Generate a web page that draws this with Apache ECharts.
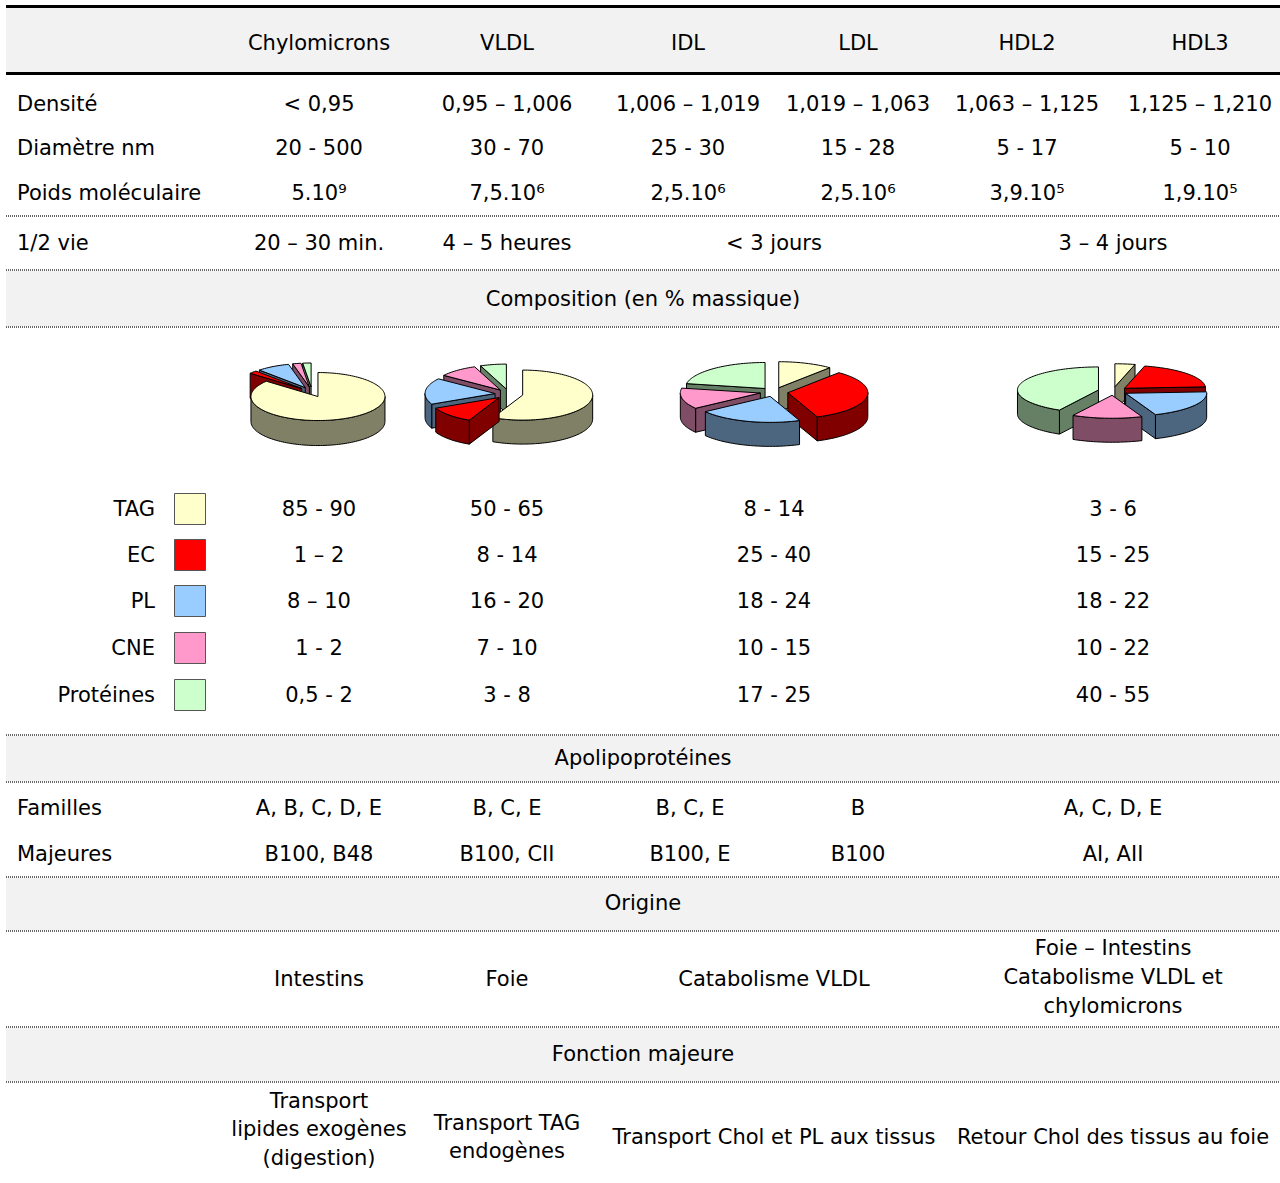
<!DOCTYPE html>
<html><head><meta charset="utf-8">
<script src="https://cdn.jsdelivr.net/npm/echarts@6/dist/echarts.min.js"></script>
<style>html,body{margin:0;padding:0;background:#fff}#c{width:1280px;height:1183px}</style>
</head><body><div id="c"></div>
<script>
// ---------------- data ----------------
const lipoproteins = ['Chylomicrons', 'VLDL', 'IDL', 'LDL', 'HDL2', 'HDL3'];
const densite = ['< 0,95', '0,95 – 1,006', '1,006 – 1,019', '1,019 – 1,063', '1,063 – 1,125', '1,125 – 1,210'];
const diametre = ['20 - 500', '30 - 70', '25 - 30', '15 - 28', '5 - 17', '5 - 10'];
const poids = ['5.10⁹', '7,5.10⁶', '2,5.10⁶', '2,5.10⁶', '3,9.10⁵', '1,9.10⁵'];
const demiVie = ['20 – 30 min.', '4 – 5 heures', '< 3 jours', '3 – 4 jours'];
const rowLabels = ['Densité', 'Diamètre nm', 'Poids moléculaire', '1/2 vie'];
const sections = ['Composition (en % massique)', 'Apolipoprotéines', 'Origine', 'Fonction majeure'];
const components = ['TAG', 'EC', 'PL', 'CNE', 'Protéines'];
const compTAG = ['85 - 90', '50 - 65', '8 - 14', '3 - 6'];
const compEC = ['1 – 2', '8 - 14', '25 - 40', '15 - 25'];
const compPL = ['8 – 10', '16 - 20', '18 - 24', '18 - 22'];
const compCNE = ['1 - 2', '7 - 10', '10 - 15', '10 - 22'];
const compProt = ['0,5 - 2', '3 - 8', '17 - 25', '40 - 55'];
// pie slice shares as drawn (TAG, EC, PL, CNE, Protéines)
const pieChylo = [86, 2, 8, 2, 2];
const pieVLDL = [57, 11, 17, 9, 6];
const pieIDL = [11, 33, 21, 13, 22];
const pieHDL = [4, 20, 20, 14, 42];
const apoLabels = ['Familles', 'Majeures'];
const apoFamilles = ['A, B, C, D, E', 'B, C, E', 'B, C, E', 'B', 'A, C, D, E'];
const apoMajeures = ['B100, B48', 'B100, CII', 'B100, E', 'B100', 'AI, AII'];
const origine = ['Intestins', 'Foie', 'Catabolisme VLDL', 'Foie – Intestins\nCatabolisme VLDL et\nchylomicrons'];
const fonction = ['Transport\nlipides exogènes\n(digestion)', 'Transport TAG\nendogènes', 'Transport Chol et PL aux tissus', 'Retour Chol des tissus au foie'];

// ---------------- styles / layout ----------------
const compColors = ['#ffffcc', '#ff0000', '#99ccff', '#ff99cc', '#ccffcc'];
const compSides = ['#808066', '#800000', '#4d6680', '#804d66', '#668066'];
const FONT = '21px "DejaVu Sans", sans-serif';
const colX = [319, 507, 688, 858, 1027, 1200];
const groupX = [319, 507, 774, 1113];
const apoX = [319, 507, 690, 858, 1113];
const X0 = 6, X1 = 1280;
const pieSets = [pieChylo, pieVLDL, pieIDL, pieHDL];
const pieLayout = [
  { cx: 312, cy: 392, rx: 67, ry: 24, h: 25, d: 14 },
  { cx: 509, cy: 394, rx: 70, ry: 25, h: 24, d: 14 },
  { cx: 774, cy: 392, rx: 80, ry: 26, h: 24, d: 14 },
  { cx: 1113, cy: 391, rx: 81, ry: 23, h: 24, d: 15 }
];

const g = [];
function band(y, h) { g.push({ type: 'rect', z: 0, shape: { x: X0, y: y, width: X1 - X0, height: h }, style: { fill: '#f2f2f2' } }); }
function dotted(y) { g.push({ type: 'line', z: 1, shape: { x1: X0, y1: y, x2: X1, y2: y }, style: { stroke: '#666', lineWidth: 2, lineDash: [1, 1] } }); }
function thick(y) { g.push({ type: 'line', z: 1, shape: { x1: X0, y1: y, x2: X1, y2: y }, style: { stroke: '#000', lineWidth: 3 } }); }
function txt(s, x, y, align, lh) {
  g.push({ type: 'text', z: 3, x: x, y: y, style: { text: s, font: FONT, fill: '#000', textAlign: align || 'center', align: align || 'center', textVerticalAlign: 'middle', verticalAlign: 'middle', lineHeight: lh || 26 } });
}

// bands
band(8, 64); band(271, 55); band(736, 45); band(878, 52); band(1028, 53);
// lines
thick(6.5); thick(73.5);
[216, 270, 327, 735, 782, 877, 931, 1027, 1082].forEach(dotted);

// header
lipoproteins.forEach((s, i) => txt(s, colX[i], 43));
// physical rows
const physRows = [densite, diametre, poids];
const physY = [104, 148, 193];
physRows.forEach((row, r) => {
  txt(rowLabels[r], 17, physY[r], 'left');
  row.forEach((s, i) => txt(s, colX[i], physY[r]));
});
txt(rowLabels[3], 17, 243, 'left');
demiVie.forEach((s, i) => txt(s, groupX[i], 243));
// sections
const secY = [299, 758, 903, 1054];
sections.forEach((s, i) => txt(s, 643, secY[i]));
// composition table
const compRows = [compTAG, compEC, compPL, compCNE, compProt];
const compY = [509, 555, 601, 648, 695];
components.forEach((c, r) => {
  txt(c, 155, compY[r], 'right');
  g.push({ type: 'rect', z: 2, shape: { x: 174.5, y: compY[r] - 15.5, width: 31, height: 31 }, style: { fill: compColors[r], stroke: '#555', lineWidth: 1 } });
  compRows[r].forEach((s, i) => txt(s, groupX[i], compY[r]));
});
// apolipoproteins
const apoRows = [apoFamilles, apoMajeures];
const apoY = [808, 854];
apoRows.forEach((row, r) => {
  txt(apoLabels[r], 17, apoY[r], 'left');
  row.forEach((s, i) => txt(s, apoX[i], apoY[r]));
});
// origine
origine.forEach((s, i) => txt(s, groupX[i], i === 3 ? 977 : 979, 'center', 29));
// fonction
const fonY = [1129, 1137, 1137, 1137];
fonction.forEach((s, i) => txt(s, groupX[i], fonY[i], 'center', 28.5));

// ---------------- 3D pies (custom series) ----------------
const pieData = [];
pieSets.forEach((vals, p) => vals.forEach((v, s) => pieData.push({ name: components[s], value: [p, s, v] })));

function renderSlice(params, api) {
  const p = api.value(0), s = api.value(1);
  const vals = pieSets[p], L = pieLayout[p];
  const total = vals.reduce((a, b) => a + b, 0);
  let acc = 0;
  for (let i = 0; i < s; i++) acc += vals[i];
  const TAU = Math.PI * 2;
  const a0 = acc / total * TAU, a1 = (acc + vals[s]) / total * TAU;
  const mid = (a0 + a1) / 2;
  const ox = L.cx + L.d * Math.sin(mid);
  const oy = L.cy - L.d * (L.ry / L.rx) * Math.cos(mid);
  const pt = (a, dy) => [ox + L.rx * Math.sin(a), oy - L.ry * Math.cos(a) + dy];
  const arc = (from, to, dy) => {
    const n = Math.max(2, Math.ceil(Math.abs(to - from) / (Math.PI / 90)));
    const out = [];
    for (let i = 0; i <= n; i++) out.push(pt(from + (to - from) * i / n, dy));
    return out;
  };
  const base = Math.round((1 - Math.cos(mid)) * 100) * 3 + 10;
  const side = { fill: compSides[s], stroke: '#000', lineWidth: 1, lineJoin: 'round' };
  const topSt = { fill: compColors[s], stroke: '#000', lineWidth: 1, lineJoin: 'round' };
  const children = [];
  const c0 = [ox, oy], c1 = [ox, oy + L.h];
  if (Math.sin(a0) < -1e-6) {
    const e0 = pt(a0, 0), e1 = pt(a0, L.h);
    children.push({ type: 'polygon', z2: base, shape: { points: [c0, e0, e1, c1] }, style: side });
  }
  if (Math.sin(a1) > 1e-6) {
    const e0 = pt(a1, 0), e1 = pt(a1, L.h);
    children.push({ type: 'polygon', z2: base, shape: { points: [c0, e0, e1, c1] }, style: side });
  }
  const lo = Math.max(a0, Math.PI / 2), hi = Math.min(a1, Math.PI * 1.5);
  if (hi > lo) {
    const pts = arc(lo, hi, 0).concat(arc(hi, lo, L.h));
    children.push({ type: 'polygon', z2: base + 1, shape: { points: pts }, style: side });
  }
  children.push({ type: 'polygon', z2: base + 2, shape: { points: [c0].concat(arc(a0, a1, 0)) }, style: topSt });
  return { type: 'group', children: children };
}

const chart = echarts.init(document.getElementById('c'), null, { renderer: 'svg', width: 1280, height: 1183 });
chart.setOption({
  animation: false,
  backgroundColor: '#ffffff',
  graphic: { elements: g },
  series: [{
    type: 'custom',
    coordinateSystem: 'none',
    silent: true,
    z: 2,
    renderItem: renderSlice,
    data: pieData
  }]
});
</script>
</body></html>
